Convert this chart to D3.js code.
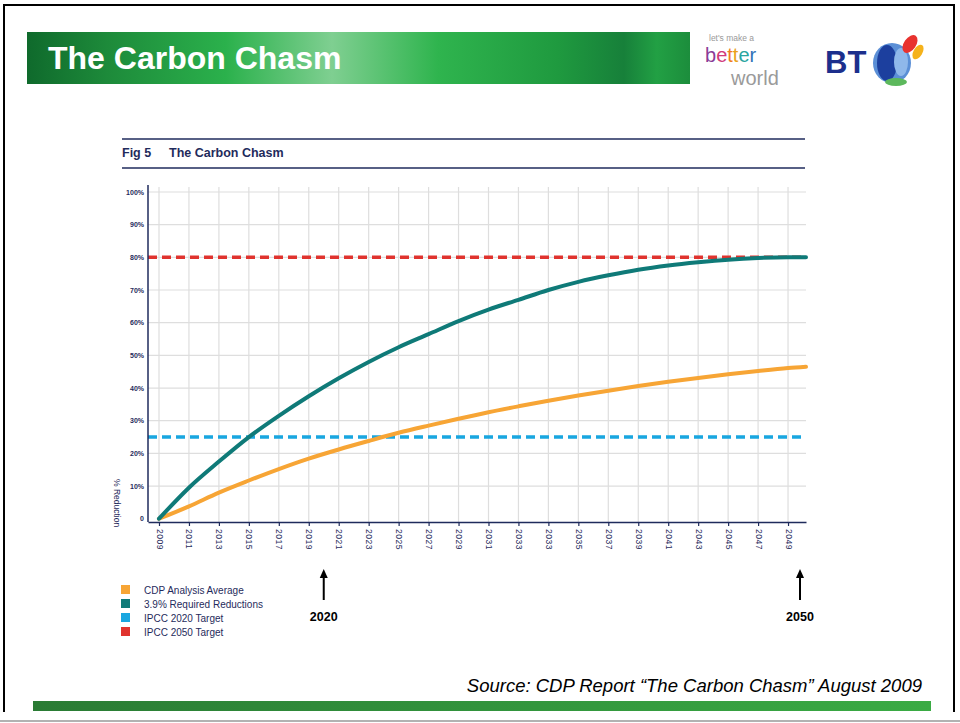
<!DOCTYPE html>
<html>
<head>
<meta charset="utf-8">
<script src="https://cdn.jsdelivr.net/npm/d3@7"></script>
<style>
  body { margin: 0; background: #fff; }
  svg { display: block; font-family: Arial, "Liberation Sans", sans-serif; }
</style>
</head>
<body>
<svg id="canvas"></svg>
<script>
// Tick labels along the x axis (as printed in the source figure)
var tickLabels = ['2009', '2011', '2013', '2015', '2017', '2019', '2021', '2023', '2025', '2027', '2029',
  '2031', '2033', '2033', '2035', '2037', '2039', '2041', '2043', '2045', '2047', '2049'];

// Curve samples: position in tick steps, % reduction
var curveSteps = [0, 1, 2, 3, 4, 5, 6, 7, 8, 9, 10, 11, 12, 13, 14, 15, 16, 17, 18, 19, 20, 21, 21.6];
var cdpAverage = [0, 3.8, 8, 11.7, 15.2, 18.4, 21.2, 23.8, 26.3, 28.5, 30.6, 32.6, 34.4, 36.1, 37.7,
  39.2, 40.6, 41.9, 43.1, 44.2, 45.2, 46.1, 46.5];
var requiredReductions = [0, 9.5, 17.5, 25, 31.5, 37.5, 43, 48, 52.5, 56.5, 60.5, 64, 67, 70, 72.5,
  74.5, 76.2, 77.5, 78.5, 79.3, 79.8, 80, 80];

// Flat targets
var targetNames = ['IPCC 2020 Target', 'IPCC 2050 Target'];
var targetValues = [25, 80];

var yTicks = [0, 10, 20, 30, 40, 50, 60, 70, 80, 90, 100];

var legendNames = ['CDP Analysis Average', '3.9% Required Reductions', 'IPCC 2020 Target', 'IPCC 2050 Target'];
var legendColors = ['#f7a535', '#0f7a78', '#19a6e0', '#e0332e'];

// Arrow call-outs under the axis
var arrowLabels = ['2020', '2050'];
var arrowSteps = [5.5, 21.4];

var canvasWidth = 960;
var canvasHeight = 723;
var navy = '#1f2b5c';

var svg = d3.select('#canvas')
  .attr('width', canvasWidth)
  .attr('height', canvasHeight);

var defs = svg.append('defs');

// Banner gradient
var bannerGrad = defs.append('linearGradient').attr('id', 'bannerGrad');
[[0, '#0f6a2c'], [0.12, '#1d8a3a'], [0.3, '#2bb14c'], [0.46, '#7fcf91'], [0.62, '#2fb44e'],
  [0.8, '#1f9a3f'], [0.9, '#17803a'], [0.95, '#22a044'], [1, '#1c8d3c']].forEach(function(s) {
  bannerGrad.append('stop').attr('offset', s[0]).attr('stop-color', s[1]);
});

var footGrad = defs.append('linearGradient').attr('id', 'footGrad');
footGrad.append('stop').attr('offset', 0).attr('stop-color', '#2a7b34');
footGrad.append('stop').attr('offset', 1).attr('stop-color', '#3aab44');

// Slide frame
svg.append('path')
  .attr('d', 'M4,712 L4,5 L954,5 L954,712')
  .attr('fill', 'none')
  .attr('stroke', '#000')
  .attr('stroke-width', 2);

svg.append('line')
  .attr('x1', 0).attr('x2', canvasWidth)
  .attr('y1', 721).attr('y2', 721)
  .attr('stroke', '#999').attr('stroke-width', 1.5);

// Title banner
svg.append('rect')
  .attr('x', 27).attr('y', 32)
  .attr('width', 663).attr('height', 52)
  .attr('fill', 'url(#bannerGrad)');

svg.append('text')
  .attr('x', 48).attr('y', 69)
  .attr('fill', '#fff')
  .style('font-size', '32px')
  .style('font-weight', 'bold')
  .text('The Carbon Chasm');

// "let's make a better world" logo
var logo = svg.append('g');
logo.append('text')
  .attr('x', 709).attr('y', 41)
  .attr('fill', '#999')
  .style('font-size', '8.5px')
  .text("let's make a");
var better = logo.append('text')
  .attr('x', 705).attr('y', 62)
  .style('font-size', '20px');
var betterColors = ['#8a3c97', '#d13a7a', '#ef7d22', '#e9a31b', '#2aa5a0', '#3173b8'];
'better'.split('').forEach(function(ch, i) {
  better.append('tspan').attr('fill', betterColors[i]).text(ch);
});
logo.append('text')
  .attr('x', 731).attr('y', 85)
  .attr('fill', '#9a9a9a')
  .style('font-size', '20px')
  .text('world');

// BT logo
var bt = svg.append('g');
bt.append('text')
  .attr('x', 825).attr('y', 73)
  .attr('fill', '#1c2f8c')
  .style('font-size', '31px')
  .style('font-weight', 'bold')
  .text('BT');
bt.append('ellipse').attr('cx', 892).attr('cy', 63).attr('rx', 19).attr('ry', 20).attr('fill', '#5b8fd6');
bt.append('ellipse').attr('cx', 887).attr('cy', 63).attr('rx', 10).attr('ry', 18).attr('fill', '#1c3f9e');
bt.append('ellipse').attr('cx', 901).attr('cy', 62).attr('rx', 7).attr('ry', 14).attr('fill', '#8fb8ea');
bt.append('ellipse').attr('cx', 910).attr('cy', 44).attr('rx', 6).attr('ry', 10).attr('fill', '#e8322e')
  .attr('transform', 'rotate(35,910,44)');
bt.append('ellipse').attr('cx', 918).attr('cy', 52).attr('rx', 4.5).attr('ry', 8).attr('fill', '#f5b21b')
  .attr('transform', 'rotate(30,918,52)');
bt.append('ellipse').attr('cx', 896).attr('cy', 82).attr('rx', 11).attr('ry', 4).attr('fill', '#5cb85c');

// Figure header
svg.append('line')
  .attr('x1', 122).attr('x2', 805).attr('y1', 139).attr('y2', 139)
  .attr('stroke', navy).attr('stroke-width', 1.5);
svg.append('line')
  .attr('x1', 122).attr('x2', 805).attr('y1', 168).attr('y2', 168)
  .attr('stroke', navy).attr('stroke-width', 1.5);
svg.append('text')
  .attr('x', 122).attr('y', 157)
  .attr('fill', navy)
  .style('font-size', '12.5px').style('font-weight', 'bold')
  .text('Fig 5');
svg.append('text')
  .attr('x', 169).attr('y', 157)
  .attr('fill', navy)
  .style('font-size', '12.5px').style('font-weight', 'bold')
  .text('The Carbon Chasm');

// Scales
var x = d3.scaleLinear()
  .domain([-0.367, 21.6])
  .range([148, 806]);

var y = d3.scaleLinear()
  .domain([-1, 100])
  .range([522, 192]);

var plot = svg.append('g');

// Gridlines
plot.append('g')
  .selectAll('line')
  .data(d3.range(tickLabels.length))
  .enter()
  .append('line')
  .attr('x1', function(d) { return x(d); })
  .attr('x2', function(d) { return x(d); })
  .attr('y1', 187)
  .attr('y2', y(-1))
  .attr('stroke', '#dedede')
  .attr('stroke-width', 1.2);

plot.append('g')
  .selectAll('line')
  .data(yTicks.slice(1))
  .enter()
  .append('line')
  .attr('x1', x.range()[0])
  .attr('x2', x.range()[1])
  .attr('y1', function(d) { return y(d); })
  .attr('y2', function(d) { return y(d); })
  .attr('stroke', '#dedede')
  .attr('stroke-width', 1.2);

// Target lines
var targetColors = legendColors.slice(2);
plot.append('g')
  .selectAll('line')
  .data(targetValues)
  .enter()
  .append('line')
  .attr('x1', x.range()[0])
  .attr('x2', x.range()[1])
  .attr('y1', function(d) { return y(d); })
  .attr('y2', function(d) { return y(d); })
  .attr('stroke', function(d, i) { return targetColors[i]; })
  .attr('stroke-width', 3.5)
  .attr('stroke-dasharray', '9,5');

// Curves
var line = d3.line()
  .x(function(d) { return x(d[0]); })
  .y(function(d) { return y(d[1]); })
  .curve(d3.curveMonotoneX);

[cdpAverage, requiredReductions].forEach(function(series, i) {
  plot.append('path')
    .datum(curveSteps.map(function(s, j) { return [s, series[j]]; }))
    .attr('d', line)
    .attr('fill', 'none')
    .attr('stroke', legendColors[i])
    .attr('stroke-width', 4)
    .attr('stroke-linecap', 'round');
});

// X axis
var xAxis = d3.axisBottom(x)
  .tickValues(d3.range(tickLabels.length))
  .tickFormat(function(d) { return tickLabels[d]; })
  .tickSize(4)
  .tickSizeOuter(0);

var xAxisG = plot.append('g')
  .attr('transform', 'translate(0,' + y(-1) + ')')
  .call(xAxis);
xAxisG.select('.domain').attr('stroke', navy).attr('stroke-width', 1.5);
xAxisG.selectAll('.tick line').attr('stroke', navy).attr('stroke-width', 1.2);
xAxisG.selectAll('.tick text')
  .attr('fill', navy)
  .attr('transform', 'rotate(90)')
  .attr('x', 7)
  .attr('y', 0)
  .attr('dy', '0.35em')
  .style('text-anchor', 'start')
  .style('font-size', '8.5px')
  .style('font-family', 'Arial, "Liberation Sans", sans-serif')
  .style('letter-spacing', '0.5px');

// Y axis
var yAxis = d3.axisLeft(y)
  .tickValues(yTicks)
  .tickFormat(function(d) { return d === 0 ? '0' : d + '%'; })
  .tickSize(0);

var yAxisG = plot.append('g')
  .attr('transform', 'translate(' + x.range()[0] + ',0)')
  .call(yAxis);
yAxisG.select('.domain')
  .attr('d', 'M0,185V' + y(-1))
  .attr('stroke', navy).attr('stroke-width', 1.5);
yAxisG.selectAll('.tick text')
  .attr('fill', navy)
  .attr('x', -4)
  .style('font-size', '7px')
  .style('font-weight', 'bold')
  .style('font-family', 'Arial, "Liberation Sans", sans-serif');

// Y axis title
svg.append('text')
  .attr('transform', 'translate(114,479) rotate(90)')
  .attr('fill', navy)
  .style('font-size', '8.5px')
  .text('% Reduction');

// Legend
var legend = svg.append('g')
  .selectAll('g')
  .data(legendNames)
  .enter()
  .append('g')
  .attr('transform', function(d, i) { return 'translate(121,' + (585 + i * 14) + ')'; });
legend.append('rect')
  .attr('width', 9).attr('height', 9)
  .attr('fill', function(d, i) { return legendColors[i]; });
legend.append('text')
  .attr('x', 23).attr('y', 8.5)
  .attr('fill', navy)
  .style('font-size', '10px')
  .text(function(d) { return d; });

// Arrows with year call-outs
var arrows = svg.append('g')
  .selectAll('g')
  .data(arrowLabels)
  .enter()
  .append('g')
  .attr('transform', function(d, i) { return 'translate(' + x(arrowSteps[i]) + ',0)'; });
arrows.append('line')
  .attr('x1', 0).attr('x2', 0)
  .attr('y1', 576).attr('y2', 600)
  .attr('stroke', '#000').attr('stroke-width', 2);
arrows.append('path')
  .attr('d', 'M-4,578L0,569L4,578Z')
  .attr('fill', '#000');
arrows.append('text')
  .attr('y', 621)
  .attr('text-anchor', 'middle')
  .style('font-size', '12.5px')
  .style('font-weight', 'bold')
  .text(function(d) { return d; });

// Source
svg.append('text')
  .attr('x', 922).attr('y', 692)
  .attr('text-anchor', 'end')
  .style('font-size', '18.5px')
  .style('font-style', 'italic')
  .text('Source: CDP Report \u201CThe Carbon Chasm\u201D August 2009');

// Bottom bar
svg.append('rect')
  .attr('x', 33).attr('y', 701)
  .attr('width', 898).attr('height', 10)
  .attr('fill', 'url(#footGrad)');
</script>
</body>
</html>
